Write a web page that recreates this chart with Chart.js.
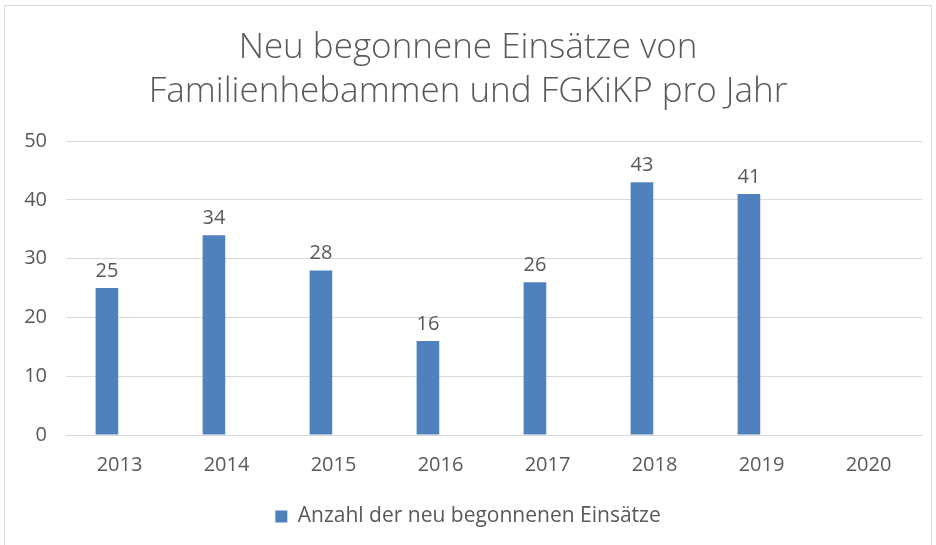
<!DOCTYPE html>
<html>
<head>
<meta charset="utf-8">
<script src="https://cdn.jsdelivr.net/npm/chart.js@4"></script>
<style>
  html, body { margin: 0; padding: 0; background: #fff; }
  #wrap { position: relative; width: 936px; height: 545px; }
  #frame { position: absolute; left: 4px; top: 5px; width: 928px; height: 545px; border: 1px solid #d9d9d9; box-sizing: border-box; }
  canvas { position: absolute; left: 0; top: 0; }
</style>
</head>
<body>
<div id="wrap">
  <div id="frame"></div>
  <canvas id="barChart" width="936" height="545"></canvas>
</div>
<script>
(() => {
  'use strict'

  const years = ['2013', '2014', '2015', '2016', '2017', '2018', '2019', '2020'];
  const einsaetze = [25, 34, 28, 16, 26, 43, 41, null];
  // second series of the original chart, left empty
  const leer = [null, null, null, null, null, null, null, null];
  const yTicks = [0, 10, 20, 30, 40, 50];

  const textColor = '#595959';
  const gridColor = '#d9d9d9';
  const barColor = '#4f81bd';
  const fontFamily = '"Open Sans", "Noto Sans", sans-serif';

  // draws the value above every bar
  const valueLabels = {
    id: 'valueLabels',
    afterDatasetsDraw(chart) {
      const { ctx } = chart;
      ctx.save();
      ctx.fillStyle = textColor;
      ctx.font = '20px ' + fontFamily;
      ctx.textAlign = 'center';
      ctx.textBaseline = 'bottom';
      chart.getDatasetMeta(0).data.forEach((bar, i) => {
        const v = chart.data.datasets[0].data[i];
        if (v == null) return;
        ctx.fillText(v, bar.x, bar.y - 7);
      });
      ctx.restore();
    }
  };

  const ctx = document.getElementById('barChart').getContext('2d');

  new Chart(ctx, {
    type: 'bar',
    data: {
      labels: years,
      datasets: [{
        label: 'Anzahl der neu begonnenen Einsätze',
        data: einsaetze,
        backgroundColor: barColor,
        borderWidth: 0,
        barPercentage: 0.9,
        categoryPercentage: 0.47
      }, {
        label: '',
        data: leer,
        backgroundColor: '#c0504d',
        borderWidth: 0,
        barPercentage: 0.9,
        categoryPercentage: 0.47
      }]
    },
    options: {
      responsive: false,
      animation: false,
      layout: { padding: { left: 14, right: 14, top: 10, bottom: 8 } },
      plugins: {
        title: {
          display: true,
          text: ['Neu begonnene Einsätze von', 'Familienhebammen und FGKiKP pro Jahr'],
          color: textColor,
          font: { family: fontFamily, size: 35, weight: '300', lineHeight: 1.23 },
          padding: { top: 17, bottom: 28 }
        },
        legend: {
          position: 'bottom',
          labels: {
            color: textColor,
            font: { family: fontFamily, size: 21 },
            boxWidth: 12,
            boxHeight: 12,
            padding: 19,
            filter: item => item.text !== ''
          }
        },
        tooltip: { enabled: false }
      },
      scales: {
        x: {
          grid: { display: false },
          border: { color: gridColor },
          ticks: { color: textColor, font: { family: fontFamily, size: 20 }, padding: 10 }
        },
        y: {
          min: 0,
          max: 50,
          afterBuildTicks: s => { s.ticks = yTicks.map(v => ({ value: v })); },
          afterFit: s => { s.width = 52; },
          grid: { color: gridColor, drawTicks: false },
          border: { display: false },
          ticks: { color: textColor, font: { family: fontFamily, size: 20 }, padding: 19 }
        }
      }
    },
    plugins: [valueLabels]
  });
})()
</script>
</body>
</html>
